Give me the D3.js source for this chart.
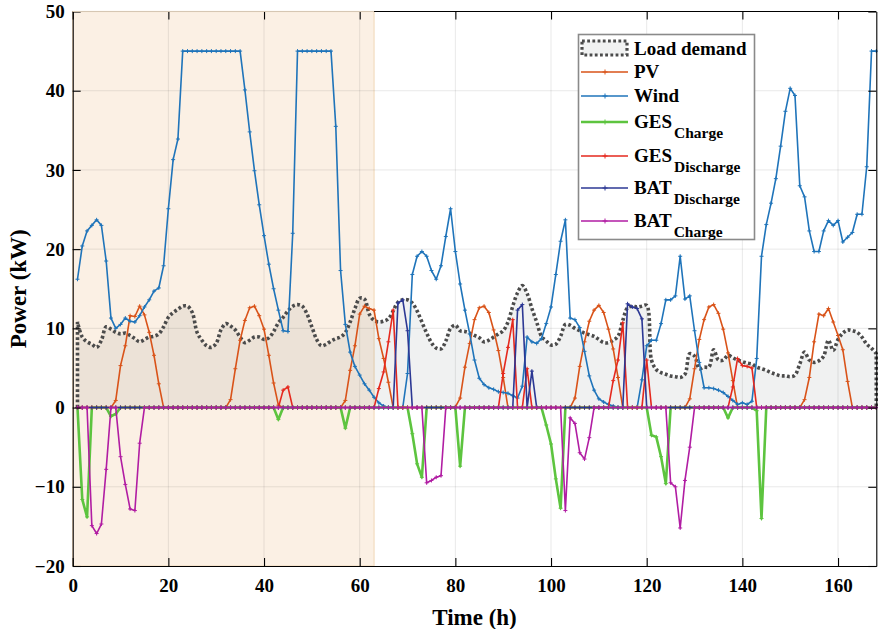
<!DOCTYPE html>
<html>
<head>
<meta charset="utf-8">
<script src="https://cdn.jsdelivr.net/npm/d3@7"></script>
<style>
  body { margin: 0; background: #fff; }
  svg { display: block; font-family: 'Liberation Serif', 'Times New Roman', serif; font-weight: bold; }
</style>
</head>
<body>
<div id="chart"></div>
<script>
// hourly data, h = 1..168
const hours = d3.range(1, 169)

const loadDemand = [
  10.8, 8.9, 8.3, 8.0, 7.6, 8.5, 10.2, 9.9, 9.5, 9.3, 9.4, 9.1,
  8.7, 8.3, 8.6, 8.9, 9.0, 9.3, 10.2, 11.4, 12.0, 12.4, 12.8, 12.8,
  12.0, 9.5, 8.5, 7.8, 7.6, 8.1, 9.8, 10.6, 10.3, 9.8, 8.9, 8.2,
  8.5, 8.9, 8.9, 8.6, 8.8, 9.6, 10.7, 11.4, 12.2, 12.8, 13.0, 12.8,
  11.8, 10.2, 8.6, 7.8, 8.0, 8.4, 8.7, 8.9, 9.5, 10.8, 12.5, 13.8,
  13.7, 11.8, 11.0, 10.8, 10.9, 11.2, 12.2, 13.3, 13.6, 13.6, 13.2, 12.2,
  10.8, 9.4, 8.2, 7.5, 7.4, 8.4, 10.0, 10.4, 9.7, 9.6, 9.4, 9.1,
  8.8, 8.3, 8.5, 8.9, 9.3, 9.7, 10.8, 12.8, 14.5, 15.4, 14.4, 12.5,
  10.8, 9.0, 8.4, 7.9, 8.0, 9.0, 10.5, 10.4, 10.0, 9.7, 9.4, 9.2,
  9.0, 8.6, 8.2, 8.2, 8.5, 9.0, 11.0, 12.6, 12.8, 12.7, 12.8, 12.9,
  6.0, 4.8, 4.4, 4.2, 4.0, 3.9, 3.8, 4.2, 6.8, 6.5, 4.9, 5.1,
  5.1, 7.3, 6.0, 6.0, 6.6, 6.3, 6.0, 5.8, 5.6, 5.5, 5.1, 4.9,
  4.7, 4.4, 4.2, 4.0, 4.0, 3.9, 4.1, 5.5, 7.0, 6.0, 5.7, 5.9,
  6.5, 8.5, 7.2, 8.6, 9.4, 9.8, 9.7, 9.5, 8.9, 8.0, 7.5, 6.8
]
const pv = [
  0, 0, 0, 0, 0, 0, 0, 0, 0.9, 5.3, 7.8, 11.6,
  11.5, 12.8, 11.7, 9.5, 6.6, 3.0, 0, 0, 0, 0, 0, 0,
  0, 0, 0, 0, 0, 0, 0, 0, 1.0, 4.9, 8.5, 11.0,
  12.6, 12.8, 11.6, 9.9, 6.6, 3.1, 0.3, 0, 0, 0, 0, 0,
  0, 0, 0, 0, 0, 0, 0, 0, 0.9, 4.7, 7.8, 11.8,
  12.8, 12.5, 12.3, 8.7, 6.2, 3.2, 0, 0, 0, 0, 0, 0,
  0, 0, 0, 0, 0, 0, 0, 0.1, 1.2, 5.1, 8.1, 11.1,
  12.6, 12.8, 12.0, 9.8, 7.2, 3.8, 0, 0, 0, 0, 0, 0,
  0, 0, 0, 0, 0, 0, 0, 0, 1.2, 5.2, 8.3, 10.9,
  12.3, 12.9, 12.0, 9.9, 7.4, 3.8, 0, 0, 0, 0, 0, 0,
  0, 0, 0, 0, 0, 0, 0, 0, 1.1, 4.9, 8.6, 11.1,
  12.7, 13.0, 11.9, 9.9, 6.9, 3.4, 0, 0, 0, 0, 0, 0,
  0, 0, 0, 0, 0, 0, 0, 0, 1.0, 3.8, 8.3, 11.8,
  11.6, 12.5, 10.8, 9.1, 7.3, 3.3, 0, 0, 0, 0, 0, 0
]
const wind = [
  16.2, 20.4, 22.3, 23.0, 23.7, 23.0, 18.5, 11.3, 10.0, 10.5, 11.3, 10.9,
  10.8, 11.6, 12.7, 13.6, 14.7, 15.1, 17.9, 25.1, 31.3, 33.9, 45, 45,
  45, 45, 45, 45, 45, 45, 45, 45, 45, 45, 45, 40.1,
  34.8, 29.9, 25.6, 21.7, 18.1, 15.0, 12.3, 9.7, 9.6, 22.0, 45, 45,
  45, 45, 45, 45, 45, 45, 35.5, 17.3, 10.5, 7.0, 5.2, 4.1,
  3.0, 2.2, 1.3, 0.6, 0.2, 0, 0, 0, 0, 4.3, 16.8, 19.1,
  19.7, 19.1, 17.3, 16.2, 17.9, 21.6, 25.1, 19.7, 15.6, 12.3, 9.3, 6.0,
  3.7, 2.9, 2.5, 2.3, 2.0, 1.9, 1.8, 1.5, 1.2, 2.7, 8.9, 8.3,
  8.1, 8.7, 10.6, 12.7, 16.8, 21.0, 23.7, 11.3, 11.1, 10.1, 7.1, 4.0,
  2.2, 1.1, 0.7, 0.4, 0.2, 0, 0, 0, 0, 0, 3.5, 7.8,
  8.5, 8.5, 10.6, 13.6, 13.6, 14.1, 19.1, 13.7, 14.1, 9.7, 5.7, 2.5,
  2.5, 2.4, 2.2, 1.9, 1.4, 0.9, 0.4, 0.6, 0.4, 0.8, 6.2, 19.1,
  23.1, 25.8, 28.9, 33.0, 37.4, 40.3, 39.4, 28.0, 26.6, 22.3, 19.7, 19.7,
  22.3, 23.6, 23.0, 23.6, 20.9, 21.5, 22.1, 24.4, 24.4, 30.4, 45, 45
]
const gesCharge = [
  0, -11.6, -13.8, 0, 0, 0, 0, -1.1, -0.8, 0, 0, 0,
  0, 0, 0, 0, 0, 0, 0, 0, 0, 0, 0, 0,
  0, 0, 0, 0, 0, 0, 0, 0, 0, 0, 0, 0,
  0, 0, 0, 0, 0, 0, -1.5, 0, 0, 0, 0, 0,
  0, 0, 0, 0, 0, 0, 0, 0, -2.6, 0, 0, 0,
  0, 0, 0, 0, 0, 0, 0, 0, 0, 0, -3.3, -7.1,
  -8.8, 0, 0, 0, 0, 0, 0, 0, -7.4, 0, 0, 0,
  0, 0, 0, 0, 0, 0, 0, 0, 0, 0, 0, 0,
  0, 0, -2.2, -4.6, -9.0, -12.7, 0, 0, 0, 0, 0, 0,
  0, 0, 0, 0, 0, 0, 0, 0, 0, 0, 0, 0,
  -3.5, -3.7, -6.2, -9.6, 0, 0, 0, 0, 0, 0, 0, 0,
  0, 0, 0, 0, -1.3, 0, 0, 0, 0, 0, -0.4, -14.0,
  0, 0, 0, 0, 0, 0, 0, 0, 0, 0, 0, 0,
  0, 0, 0, 0, 0, 0, 0, 0, 0, 0, 0, 0
]
const gesDischarge = [
  0, 0, 0, 0, 0, 0, 0, 0, 0, 0, 0, 0,
  0, 0, 0, 0, 0, 0, 0, 0, 0, 0, 0, 0,
  0, 0, 0, 0, 0, 0, 0, 0, 0, 0, 0, 0,
  0, 0, 0, 0, 0, 0, 0, 2.2, 2.6, 0, 0, 0,
  0, 0, 0, 0, 0, 0, 0, 0, 0, 0, 0, 0,
  0, 0, 0, 2.4, 4.5, 8.3, 12.3, 0, 0, 0, 0, 0,
  0, 0, 0, 0, 0, 0, 0, 0, 0, 0, 0, 0,
  0, 0, 0, 0, 0, 4.3, 7.6, 11.1, 0, 0, 4.9, 0,
  0, 0, 0, 0, 0, 0, 0, 0, 0, 0, 0, 0,
  0, 0, 0, 0, 3.4, 6.0, 10.7, 0, 0, 0, 0, 6.0,
  0, 0, 0, 0, 0, 0, 0, 0, 0, 0, 0, 0,
  0, 0, 0, 0, 0, 2.6, 6.2, 5.3, 5.2, 5.0, 0, 0,
  0, 0, 0, 0, 0, 0, 0, 0, 0, 0, 0, 0,
  0, 0, 0, 0, 0, 0, 0, 0, 0, 0, 0, 0
]
const batDischarge = [
  0, 0, 0, 0, 0, 0, 0, 0, 0, 0, 0, 0,
  0, 0, 0, 0, 0, 0, 0, 0, 0, 0, 0, 0,
  0, 0, 0, 0, 0, 0, 0, 0, 0, 0, 0, 0,
  0, 0, 0, 0, 0, 0, 0, 0, 0, 0, 0, 0,
  0, 0, 0, 0, 0, 0, 0, 0, 0, 0, 0, 0,
  0, 0, 0, 0, 0, 0, 0, 13.2, 13.6, 9.7, 0, 0,
  0, 0, 0, 0, 0, 0, 0, 0, 0, 0, 0, 0,
  0, 0, 0, 0, 0, 0, 0, 0, 12.3, 13.0, 0, 4.6,
  0, 0, 0, 0, 0, 0, 0, 0, 0, 0, 0, 0,
  0, 0, 0, 0, 0, 0, 0, 13.1, 12.7, 12.5, 11.2, 0,
  0, 0, 0, 0, 0, 0, 0, 0, 0, 0, 0, 0,
  0, 0, 0, 0, 0, 0, 0, 0, 0, 0, 0, 0,
  0, 0, 0, 0, 0, 0, 0, 0, 0, 0, 0, 0,
  0, 0, 0, 0, 0, 0, 0, 0, 0, 0, 0, 0
]
const batCharge = [
  0, 0, 0, -14.9, -15.9, -14.7, -7.8, 0, 0, -6.2, -9.7, -12.8,
  -13.0, -4.5, 0, 0, 0, 0, 0, 0, 0, 0, 0, 0,
  0, 0, 0, 0, 0, 0, 0, 0, 0, 0, 0, 0,
  0, 0, 0, 0, 0, 0, 0, 0, 0, 0, 0, 0,
  0, 0, 0, 0, 0, 0, 0, 0, 0, 0, 0, 0,
  0, 0, 0, 0, 0, 0, 0, 0, 0, 0, 0, 0,
  0, -9.5, -9.2, -8.8, -8.6, 0, 0, 0, 0, 0, 0, 0,
  0, 0, 0, 0, 0, 0, 0, 0, 0, 0, 0, 0,
  0, 0, 0, 0, 0, 0, -13.0, -1.3, -2.0, -5.7, -6.5, -3.8,
  0, 0, 0, 0, 0, 0, 0, 0, 0, 0, 0, 0,
  0, 0, 0, 0, -9.5, -10.0, -15.2, -9.2, -5.0, 0, 0, 0,
  0, 0, 0, 0, 0, 0, 0, 0, 0, 0, 0, 0,
  0, 0, 0, 0, 0, 0, 0, 0, 0, 0, 0, 0,
  0, 0, 0, 0, 0, 0, 0, 0, 0, 0, 0, 0
]

const xTicks = [0, 20, 40, 60, 80, 100, 120, 140, 160]
const yTicks = [-20, -10, 0, 10, 20, 30, 40, 50]
const shadeRange = [0, 63]

const series = [
  { name: 'PV', sub: '', values: pv, color: '#D95319', width: 1.6 },
  { name: 'Wind', sub: '', values: wind, color: '#1F74BA', width: 1.6 },
  { name: 'GES', sub: 'Charge', values: gesCharge, color: '#5DC43F', width: 2.6 },
  { name: 'GES', sub: 'Discharge', values: gesDischarge, color: '#E5291E', width: 1.6 },
  { name: 'BAT', sub: 'Discharge', values: batDischarge, color: '#2C3894', width: 1.6 },
  { name: 'BAT', sub: 'Charge', values: batCharge, color: '#B11DA3', width: 1.6 }
]

const width = 878, height = 629
const margin = { left: 72.7, right: 1.7, top: 11.5, bottom: 63 }
const innerW = width - margin.left - margin.right
const innerH = height - margin.top - margin.bottom

const svg = d3.select('#chart').append('svg')
  .attr('width', width)
  .attr('height', height)

const xScale = d3.scaleLinear().domain([0, 168]).range([0, innerW])
const yScale = d3.scaleLinear().domain([-20, 50]).range([innerH, 0])

const g = svg.append('g').attr('transform', `translate(${margin.left},${margin.top})`)

function drawShade() {
  g.append('rect')
    .attr('x', xScale(shadeRange[0]))
    .attr('y', 0)
    .attr('width', xScale(shadeRange[1]) - xScale(shadeRange[0]))
    .attr('height', innerH)
    .attr('fill', '#FBF0E4')
    .attr('stroke', '#F3DCBF')
    .attr('stroke-width', 1.2)
}

function drawGrid() {
  g.append('g').selectAll('line.gx')
    .data(xTicks.slice(1))
    .enter().append('line')
    .attr('x1', d => xScale(d)).attr('x2', d => xScale(d))
    .attr('y1', 0).attr('y2', innerH)
    .attr('stroke', 'rgba(40,40,40,0.1)')
  g.append('g').selectAll('line.gy')
    .data(yTicks.slice(1, -1))
    .enter().append('line')
    .attr('x1', 0).attr('x2', innerW)
    .attr('y1', d => yScale(d)).attr('y2', d => yScale(d))
    .attr('stroke', 'rgba(40,40,40,0.1)')
}

function drawLoad() {
  const pts = hours.map((h, i) => [h, loadDemand[i]])
  const area = d3.area()
    .x(d => xScale(d[0]))
    .y0(yScale(0))
    .y1(d => yScale(d[1]))
    .curve(d3.curveCatmullRom)
  g.append('path')
    .attr('d', area(pts))
    .attr('fill', 'rgba(0,25,25,0.058)')

  const line = d3.line()
    .x(d => xScale(d[0]))
    .y(d => yScale(d[1]))
    .curve(d3.curveCatmullRom)
  // vertical edges at both ends + smooth top
  const top = line(pts).replace(/^M/, 'L')
  const dPath = `M${xScale(hours[0])},${yScale(0)}` + top +
    `L${xScale(hours[hours.length - 1])},${yScale(0)}`
  g.append('path')
    .attr('d', dPath)
    .attr('fill', 'none')
    .attr('stroke', '#4B4B4B')
    .attr('stroke-width', 3.6)
    .attr('stroke-dasharray', '2.8 2.4')
}

function markerPath(values) {
  return hours.map((h, i) => {
    const x = xScale(h), y = yScale(values[i])
    return `M${x - 2},${y}h4M${x},${y - 2}v4`
  }).join('')
}

function drawSeries() {
  const line = d3.line()
    .x((d, i) => xScale(hours[i]))
    .y(d => yScale(d))
  series.forEach(s => {
    g.append('path')
      .attr('d', line(s.values))
      .attr('fill', 'none')
      .attr('stroke', s.color)
      .attr('stroke-width', s.width)
      .attr('stroke-linejoin', 'round')
    g.append('path')
      .attr('d', markerPath(s.values))
      .attr('stroke', s.color)
      .attr('stroke-width', 1)
  })
}

function drawAxes() {
  const xAxis = d3.axisBottom(xScale).tickValues(xTicks).tickSizeInner(-8).tickSizeOuter(0).tickPadding(13)
  const yAxis = d3.axisLeft(yScale).tickValues(yTicks).tickSizeInner(-8).tickSizeOuter(0).tickPadding(8)
  const xTop = d3.axisTop(xScale).tickValues(xTicks).tickSizeInner(-8).tickSizeOuter(0).tickFormat('')
  const yRight = d3.axisRight(yScale).tickValues(yTicks).tickSizeInner(-8).tickSizeOuter(0).tickFormat('')

  const gx = g.append('g').attr('transform', `translate(0,${innerH})`).call(xAxis)
  const gy = g.append('g').call(yAxis)
  const gt = g.append('g').call(xTop)
  const gr = g.append('g').attr('transform', `translate(${innerW},0)`).call(yRight)

  ;[gx, gy, gt, gr].forEach(a => {
    a.selectAll('path.domain').attr('stroke', '#000').attr('stroke-width', 1.1)
    a.selectAll('.tick line').attr('stroke', '#000').attr('stroke-width', 1.1)
    a.selectAll('text')
      .attr('fill', '#000')
      .style('font-family', "'Liberation Serif', 'Times New Roman', serif")
      .style('font-weight', 'bold')
      .style('font-size', '19px')
  })
  // top border inside the shaded block looks tan
  gt.select('path.domain').attr('stroke', 'none')
  gt.append('line')
    .attr('x1', 0).attr('x2', xScale(shadeRange[1]))
    .attr('stroke', '#D6C7B3').attr('stroke-width', 1.2)
  gt.append('line')
    .attr('x1', xScale(shadeRange[1])).attr('x2', innerW)
    .attr('stroke', '#000').attr('stroke-width', 1.1)

  svg.append('text')
    .attr('x', margin.left + innerW / 2)
    .attr('y', 625)
    .attr('text-anchor', 'middle')
    .style('font-size', '23px')
    .text('Time (h)')
  svg.append('text')
    .attr('transform', `translate(26,${margin.top + innerH / 2}) rotate(-90)`)
    .attr('text-anchor', 'middle')
    .style('font-size', '23px')
    .text('Power (kW)')
}

function drawLegend() {
  const lg = svg.append('g')
  lg.append('rect')
    .attr('x', 578.5).attr('y', 34.5)
    .attr('width', 176).attr('height', 205)
    .attr('fill', '#fff')
    .attr('stroke', '#8A8A8A')
    .attr('stroke-width', 1.6)

  // load demand patch
  lg.append('rect')
    .attr('x', 582).attr('y', 41)
    .attr('width', 45).attr('height', 14)
    .attr('fill', '#F1F2F2')
    .attr('stroke', '#4B4B4B')
    .attr('stroke-width', 3.2)
    .attr('stroke-dasharray', '2.8 2.4')
  lg.append('text')
    .attr('x', 634).attr('y', 54.5)
    .style('font-size', '19px')
    .text('Load demand')

  const rows = [72, 96, 122, 156, 188, 221]
  series.forEach((s, i) => {
    const y = rows[i]
    lg.append('line')
      .attr('x1', 581).attr('x2', 628)
      .attr('y1', y).attr('y2', y)
      .attr('stroke', s.color)
      .attr('stroke-width', s.width)
    lg.append('path')
      .attr('d', `M602.5,${y}h5M605,${y - 2.5}v5`)
      .attr('stroke', s.color)
      .attr('stroke-width', 1)
    const t = lg.append('text')
      .attr('x', 634).attr('y', y + 6.3)
      .style('font-size', '19px')
    t.append('tspan').text(s.name)
    if (s.sub) {
      t.append('tspan')
        .attr('dx', 2)
        .attr('dy', 10)
        .style('font-size', '15.5px')
        .text(s.sub)
    }
  })
}

(function draw() {
  drawShade()
  drawGrid()
  drawLoad()
  drawSeries()
  drawAxes()
  drawLegend()
})()
</script>
</body>
</html>
